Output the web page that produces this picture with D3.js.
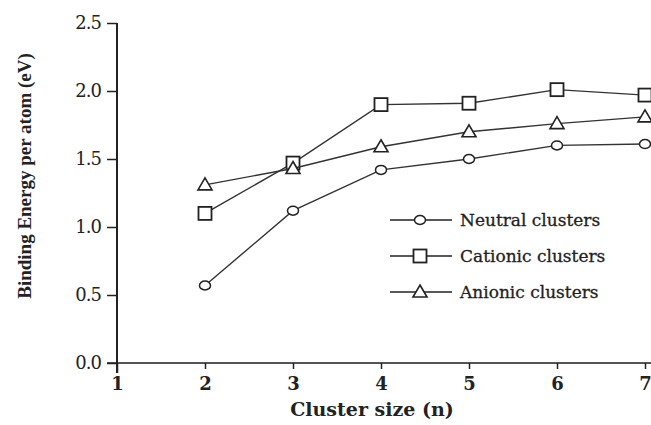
<!DOCTYPE html>
<html>
<head>
<meta charset="utf-8">
<script src="https://cdn.jsdelivr.net/npm/d3@7"></script>
<style>
  body { margin: 0; background: #fff; }
  text { font-family: "DejaVu Serif", "Liberation Serif", serif; fill: #222; }
</style>
</head>
<body>
<svg id="chart" width="651" height="425"></svg>
<script>
// cluster sizes and binding energies (eV)
var sizes = [2, 3, 4, 5, 6, 7];
var neutral = [0.57, 1.12, 1.42, 1.50, 1.60, 1.61];
var cationic = [1.10, 1.47, 1.90, 1.91, 2.01, 1.97];
var anionic = [1.31, 1.43, 1.59, 1.70, 1.76, 1.81];
var xTicks = [1, 2, 3, 4, 5, 6, 7];
var yTicks = [0, 0.5, 1.0, 1.5, 2.0, 2.5];
var seriesNames = ["Neutral clusters", "Cationic clusters", "Anionic clusters"];

var svg = d3.select("#chart");
var x = d3.scaleLinear().domain([1, 7]).range([117, 645]);
var y = d3.scaleLinear().domain([0, 2.5]).range([363, 23]);

var ink = "#222";

// axes
var xAxis = d3.axisBottom(x).tickValues(xTicks).tickFormat(d3.format("d")).tickSize(6).tickPadding(8);
var gx = svg.append("g").attr("transform", "translate(0," + y(0) + ")").call(xAxis);
gx.select(".domain").attr("d", "M107,0H651").attr("stroke", "#555").attr("stroke-width", 2);
gx.selectAll(".tick line").attr("stroke", ink).attr("stroke-width", 1.5);
gx.selectAll(".tick text").attr("font-size", 18).attr("font-weight", "bold").attr("fill", ink);
gx.selectAll(".tick").filter(function(d){ return d == 1; }).select("line").attr("y2", 10);

var yAxis = d3.axisLeft(y).tickValues(yTicks).tickFormat(d3.format(".1f")).tickSize(10).tickPadding(6);
var gy = svg.append("g").attr("transform", "translate(" + x(1) + ",0)").call(yAxis);
gy.select(".domain").attr("d", "M0," + y(2.5) + "V" + (y(0) + 10)).attr("stroke", ink).attr("stroke-width", 2);
gy.selectAll(".tick line").attr("stroke", ink).attr("stroke-width", 1.5);
gy.selectAll(".tick text").attr("font-size", 18).attr("fill", ink).attr("letter-spacing", "-1px");

// axis titles
svg.append("text").attr("x", 372).attr("y", 416).attr("text-anchor", "middle")
  .attr("font-size", 19).attr("font-weight", "bold").text("Cluster size (n)");
svg.append("text").attr("transform", "translate(31,176) rotate(-90)").attr("text-anchor", "middle")
  .style("font-family", "'Liberation Serif', serif")
  .attr("font-size", 19).attr("font-weight", "bold").text("Binding Energy per atom (eV)");

var line = d3.line().x(function(d, i){ return x(sizes[i]); }).y(function(d){ return y(d); });

function marker(g, kind, cx, cy) {
  if (kind == 0) {
    g.append("ellipse").attr("cx", cx).attr("cy", cy).attr("rx", 5.5).attr("ry", 4.5)
      .attr("fill", "#fff").attr("stroke", ink).attr("stroke-width", 1.5);
  } else if (kind == 1) {
    g.append("rect").attr("x", cx - 6.5).attr("y", cy - 6.5).attr("width", 13).attr("height", 13)
      .attr("fill", "#fff").attr("stroke", ink).attr("stroke-width", 1.8);
  } else {
    g.append("path").attr("d", "M" + cx + "," + (cy - 7) + "L" + (cx + 7) + "," + (cy + 5) + "L" + (cx - 7) + "," + (cy + 5) + "Z")
      .attr("fill", "#fff").attr("stroke", ink).attr("stroke-width", 1.6);
  }
}

var allSeries = [neutral, cationic, anionic];
allSeries.forEach(function(vals, k){
  var g = svg.append("g");
  g.append("path").attr("d", line(vals)).attr("fill", "none").attr("stroke", "#333").attr("stroke-width", 1.4);
  vals.forEach(function(v, i){ marker(g, k, x(sizes[i]), y(v)); });
});

// legend
var legendY = [220, 256, 292];
seriesNames.forEach(function(name, k){
  var g = svg.append("g");
  g.append("line").attr("x1", 390).attr("x2", 452).attr("y1", legendY[k]).attr("y2", legendY[k])
    .attr("stroke", ink).attr("stroke-width", 1.5);
  marker(g, k, 420, legendY[k]);
  g.append("text").attr("x", 460).attr("y", legendY[k] + 6).attr("font-size", 17)
    .attr("stroke", "#222").attr("stroke-width", 0.3).text(name);
});
</script>
</body>
</html>
